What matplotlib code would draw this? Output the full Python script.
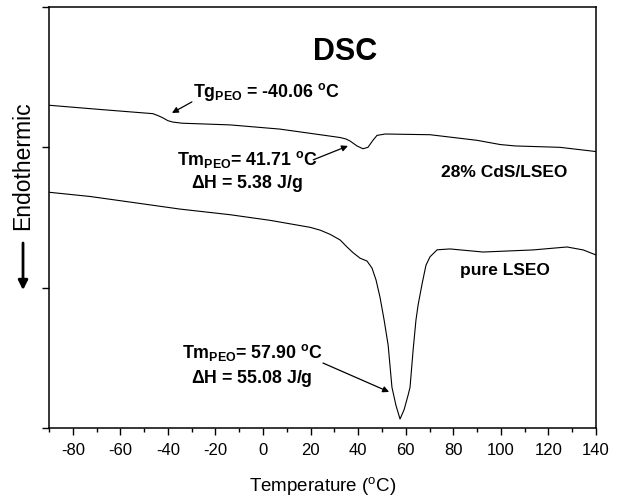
import numpy as np
import matplotlib
matplotlib.use('Agg')
import matplotlib.pyplot as plt
from matplotlib.ticker import MultipleLocator

plt.rcParams['font.family'] = ['Liberation Sans', 'DejaVu Sans']
plt.rcParams['mathtext.fontset'] = 'custom'
plt.rcParams['mathtext.rm'] = 'Liberation Sans'
plt.rcParams['mathtext.bf'] = 'Liberation Sans:bold'
plt.rcParams['mathtext.default'] = 'bf'
plt.rcParams['axes.unicode_minus'] = False

# 28% CdS/LSEO trace
temp_cds = [-90, -68.6, -46.3, -44.0, -42.1, -40.0, -37.9, -34.0, -30.7, -13.9, 7.1,
            24.0, 32.4, 34.8, 36.6, 39.5, 42.0, 44.1, 46.2, 47.9, 51.3, 70.2,
            90.0, 99.7, 106.0, 124.9, 140]
heat_cds = [2.30, 2.27, 2.24, 2.225, 2.21, 2.19, 2.18, 2.172, 2.17, 2.16, 2.13,
            2.09, 2.07, 2.06, 2.045, 2.01, 1.99, 2.00, 2.05, 2.085, 2.095, 2.09,
            2.05, 2.02, 2.01, 2.00, 1.97]

# pure LSEO trace
temp_pure = [-90, -72.8, -55.9, -34.9, -13.9, 2.9, 19.8, 24.0, 28.2, 32.4, 35.3,
             37.8, 40.8, 43.7, 45.8, 47.5, 49.2, 50.9, 52.6, 54.2, 55.9, 57.6,
             59.3, 61.0, 61.8, 63.1, 64.3, 65.2, 66.9, 68.5, 70.2, 73.2, 78.6,
             92.5, 113.5, 127.8, 134.6, 140]
heat_pure = [1.68, 1.65, 1.61, 1.56, 1.52, 1.48, 1.43, 1.41, 1.38, 1.34, 1.29,
             1.25, 1.21, 1.19, 1.14, 1.055, 0.93, 0.77, 0.59, 0.29, 0.16, 0.064,
             0.13, 0.235, 0.29, 0.556, 0.77, 0.877, 1.03, 1.16, 1.22, 1.27, 1.276,
             1.254, 1.269, 1.29, 1.269, 1.233]

fig = plt.figure(figsize=(6.17, 5.01), dpi=100)
ax = fig.add_axes([0.0794, 0.1457, 0.8866, 0.8403])

ax.plot(temp_cds, heat_cds, 'k', lw=0.8)
ax.plot(temp_pure, heat_pure, 'k', lw=0.8)

ax.set_xlim(-90, 140)
ax.set_ylim(0, 3)
ax.xaxis.set_major_locator(MultipleLocator(20))
ax.xaxis.set_minor_locator(MultipleLocator(10))
ax.yaxis.set_major_locator(MultipleLocator(1))
ax.set_yticklabels([])
ax.tick_params(which='major', direction='out', length=5, width=1, labelsize=12, pad=6)
ax.tick_params(which='minor', direction='out', length=3, width=1)
for s in ax.spines.values():
    s.set_linewidth(1.1)

ax.set_xlabel(r'Temperature ($\mathrm{^{o}}$C)', fontsize=13.5, labelpad=12)

# y label + arrow pointing down
fig.text(0.0373, 0.669, 'Endothermic', rotation=90, ha='center', va='center', fontsize=16.5)
ax.annotate('', xy=(0.0373, 0.421), xytext=(0.0373, 0.515), xycoords='figure fraction',
            arrowprops=dict(arrowstyle='-|>', lw=2, color='k', mutation_scale=14,
                            shrinkA=0, shrinkB=0))

ax.text(34.5, 2.68, 'DSC', ha='center', va='center', fontsize=22, fontweight='bold')

ap = dict(arrowstyle='-|>', lw=0.9, color='k', mutation_scale=9, shrinkA=0, shrinkB=0)

ax.text(-29.4, 2.359, r'Tg$_{PEO}$ = -40.06 $^{o}$C', ha='left', va='baseline',
        fontsize=12.8, fontweight='bold')
ax.annotate('', xy=(-38.3, 2.245), xytext=(-29.9, 2.324), arrowprops=ap)

ax.text(-6.7, 1.875, r'Tm$_{PEO}$= 41.71 $^{o}$C', ha='center', va='baseline',
        fontsize=12.8, fontweight='bold')
ax.text(-6.7, 1.711, r'$\Delta$H = 5.38 J/g', ha='center', va='baseline',
        fontsize=12.8, fontweight='bold')
ax.annotate('', xy=(35.7, 2.010), xytext=(21.1, 1.911), arrowprops=ap)

ax.text(101.3, 1.789, '28% CdS/LSEO', ha='center', va='baseline', fontsize=12.5, fontweight='bold')
ax.text(101.8, 1.091, 'pure LSEO', ha='center', va='baseline', fontsize=12.5, fontweight='bold')

ax.text(-4.4, 0.499, r'Tm$_{PEO}$= 57.90 $^{o}$C', ha='center', va='baseline',
        fontsize=12.8, fontweight='bold')
ax.text(-4.6, 0.321, r'$\Delta$H = 55.08 J/g', ha='center', va='baseline',
        fontsize=12.8, fontweight='bold')
ax.annotate('', xy=(53.0, 0.257), xytext=(25.2, 0.463), arrowprops=ap)

plt.savefig('out.png', dpi=100)
